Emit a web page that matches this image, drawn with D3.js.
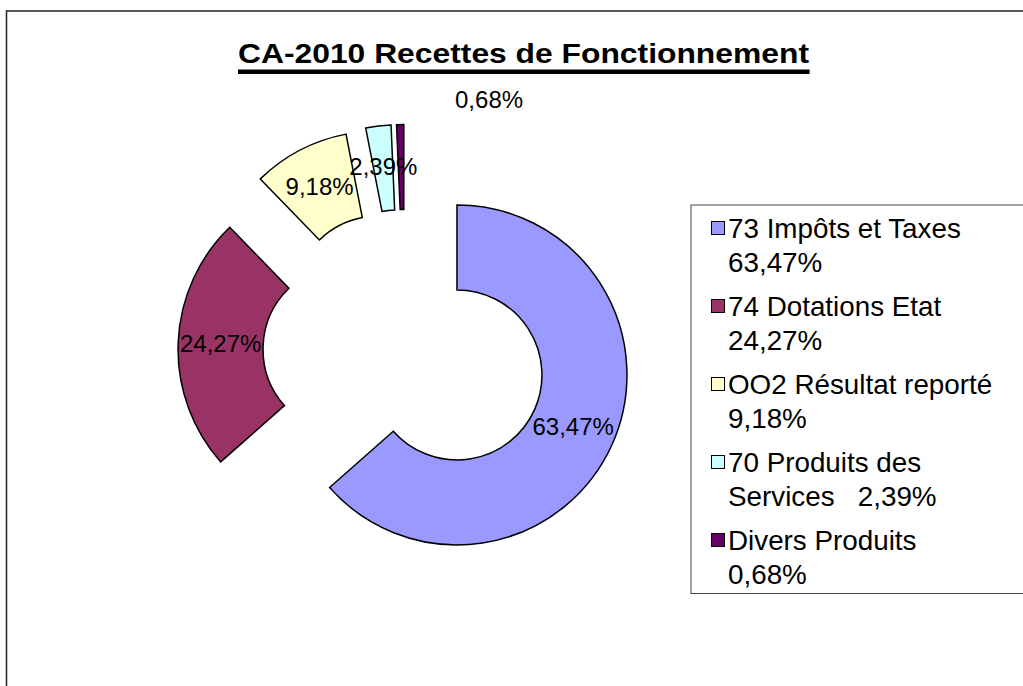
<!DOCTYPE html>
<html>
<head>
<meta charset="utf-8">
<script src="https://cdn.jsdelivr.net/npm/d3@7"></script>
<style>
  body { margin: 0; background: #fff; }
  svg { display: block; font-family: "Liberation Sans", Arial, sans-serif; }
</style>
</head>
<body>
<div id="chart"></div>
<script>
// data
var categories = ["73 Impôts et Taxes", "74 Dotations Etat", "OO2 Résultat reporté", "70 Produits des Services", "Divers Produits"];
var values = [63.47, 24.27, 9.18, 2.39, 0.68];
var labels = ["63,47%", "24,27%", "9,18%", "2,39%", "0,68%"];
var legendLines = [
    ["73 Impôts et Taxes", "63,47%"],
    ["74 Dotations Etat", "24,27%"],
    ["OO2 Résultat reporté", "9,18%"],
    ["70 Produits des", "Services   2,39%"],
    ["Divers Produits", "0,68%"]
];
var colors = ["#9999ff", "#993366", "#ffffcc", "#ccffff", "#660066"];

var canvasWidth = 1023;
var canvasHeight = 686;

var svg = d3.select("#chart").append("svg")
    .attr("width", canvasWidth)
    .attr("height", canvasHeight)

// chart frame
svg.append("rect")
    .attr("x", 6.5)
    .attr("y", 11)
    .attr("width", 1040)
    .attr("height", 700)
    .attr("fill", "none")
    .attr("stroke", "#222")
    .attr("stroke-width", 1.5)

// title
var title = svg.append("text")
    .attr("x", 523.5)
    .attr("y", 63)
    .attr("text-anchor", "middle")
    .attr("font-size", "28.5px")
    .attr("font-weight", "bold")
    .attr("textLength", 571)
    .attr("lengthAdjust", "spacingAndGlyphs")
    .text("CA-2010 Recettes de Fonctionnement")

var tb = title.node().getBBox();
svg.append("rect")
    .attr("x", tb.x)
    .attr("y", 69.5)
    .attr("width", tb.width)
    .attr("height", 4.5)
    .attr("fill", "#000")

// exploded donut
var cx = 405, cy = 351.5;
var outerR = 170, innerR = 85, explode = 57;

var pie = d3.pie().sort(null).value(function(d) { return d; });
var arcs = pie(values);

var arc = d3.arc().innerRadius(innerR).outerRadius(outerR);

var g = svg.append("g")
    .attr("transform", "translate(" + cx + "," + cy + ")");

function offset(d) {
    var a = (d.startAngle + d.endAngle) / 2;
    return [Math.sin(a) * explode, -Math.cos(a) * explode];
}

g.selectAll("path.slice")
    .data(arcs)
    .enter().append("path")
    .attr("class", "slice")
    .attr("transform", function(d) { var o = offset(d); return "translate(" + o[0] + "," + o[1] + ")"; })
    .attr("d", arc)
    .attr("fill", function(d, i) { return colors[i]; })
    .attr("stroke", "#000")
    .attr("stroke-width", 1.5)
    .attr("stroke-linejoin", "miter")

// the last label was dragged away from its slice
var labelShift = [[0, 0], [0, 0], [0, 0], [0, 0], [88, -66]];

g.selectAll("text.lbl")
    .data(arcs)
    .enter().append("text")
    .attr("class", "lbl")
    .attr("transform", function(d, i) {
        var o = offset(d);
        var c = arc.centroid(d);
        return "translate(" + (o[0] + c[0] + labelShift[i][0]) + "," + (o[1] + c[1] + labelShift[i][1]) + ")";
    })
    .attr("dy", "0.3em")
    .attr("text-anchor", "middle")
    .attr("font-size", "24px")
    .attr("fill", "#000")
    .text(function(d, i) { return labels[i]; })

// legend
var legend = svg.append("g")
    .attr("transform", "translate(691, 205)");

legend.append("rect")
    .attr("x", 0)
    .attr("y", 0)
    .attr("width", 360)
    .attr("height", 388.5)
    .attr("fill", "#fff")
    .attr("stroke", "#444")
    .attr("stroke-width", 1)

var item = legend.selectAll("g.item")
    .data(categories)
    .enter().append("g")
    .attr("class", "item")
    .attr("transform", function(d, i) { return "translate(0," + (i * 78) + ")"; });

item.append("rect")
    .attr("x", 20.5)
    .attr("y", 16.5)
    .attr("width", 13)
    .attr("height", 13)
    .attr("fill", function(d, i) { return colors[i]; })
    .attr("stroke", "#000")
    .attr("stroke-width", 1)

item.each(function(d, i) {
    var t = d3.select(this).append("text")
        .attr("x", 37)
        .attr("y", 32.7)
        .attr("font-size", "27.8px")
        .attr("fill", "#000");
    legendLines[i].forEach(function(line, k) {
        t.append("tspan")
            .attr("x", 37)
            .attr("dy", k === 0 ? 0 : 34)
            .attr("xml:space", "preserve")
            .style("white-space", "pre")
            .text(line);
    });
});
</script>
</body>
</html>
